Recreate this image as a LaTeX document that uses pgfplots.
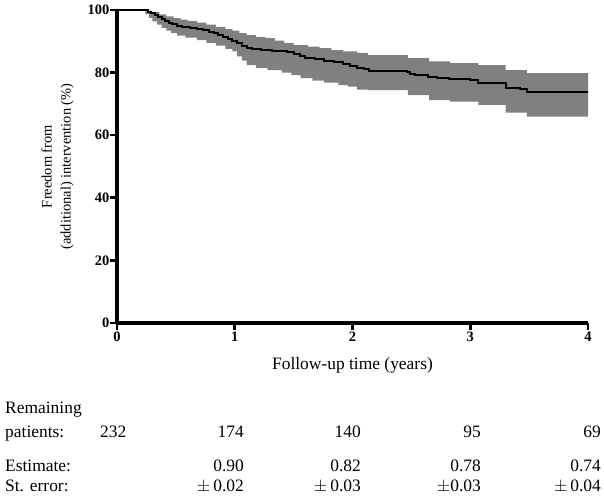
\documentclass[border=0pt]{standalone}
\usepackage{fontspec}
\setmainfont{Liberation Serif}
\usepackage{pgfplots}
\pgfplotsset{compat=1.18}
\usepgfplotslibrary{fillbetween}
\begin{document}
\begin{tikzpicture}
\begin{axis}[
  at={(0,0)}, anchor=south west,
  scale only axis, width=471bp, height=313bp,
  xmin=0, xmax=4, ymin=0, ymax=100,
  axis x line=bottom, axis y line=left,
  axis line style={line width=3bp, -},
  xtick={0,1,2,3,4}, ytick={0,20,40,60,80,100},
  tick align=outside, major tick length=7bp,
  every tick/.style={line width=2.6bp, black},
  /pgf/number format/assume math mode=true,
  ticklabel style={font=\bfseries\fontsize{14.5}{14.5}\selectfont},
  xticklabel style={inner sep=1bp, yshift=-1bp},
  yticklabel style={inner sep=0.5bp},
  xlabel={Follow-up time (years)},
  xlabel style={at={(axis description cs:0.5,0)}, anchor=base, yshift=-46bp, font=\fontsize{17.5}{20}\selectfont},
  ylabel={Freedom from\\(additional) intervention (\%)},
  ylabel style={at={(axis description cs:-0.1263,0.5)}, anchor=center, align=center, font=\fontsize{14.5}{19}\selectfont},
  clip=false,
]
\addplot[name path=U, const plot, draw=none, forget plot] table {
x y
0 100
0.26 99.8
0.30 99.3
0.36 98.6
0.42 98.0
0.48 97.4
0.54 96.9
0.60 96.5
0.68 96.0
0.76 95.3
0.84 94.6
0.92 93.9
0.98 93.4
1.04 92.6
1.10 92.0
1.18 91.4
1.26 91.0
1.34 90.2
1.42 89.5
1.50 88.8
1.62 88.3
1.72 87.8
1.82 87.2
1.92 86.8
2.04 86.3
2.13 85.6
2.47 84.6
2.65 83.6
2.83 83.0
3.07 82.4
3.30 80.8
3.48 79.8
4.00 79.8
};
\addplot[name path=L, const plot, draw=none, forget plot] table {
x y
0 100
0.24 98.8
0.27 97.5
0.30 96.4
0.34 95.3
0.38 94.3
0.42 93.4
0.46 92.6
0.51 91.8
0.58 91.2
0.68 90.4
0.76 89.5
0.84 88.6
0.92 87.6
0.98 86.8
1.02 85.2
1.06 83.8
1.10 82.4
1.18 81.4
1.28 80.8
1.40 80.0
1.48 79.2
1.56 78.2
1.66 77.4
1.76 76.8
1.88 76.0
1.96 75.5
2.04 74.6
2.13 74.4
2.47 72.8
2.65 71.2
2.83 70.7
3.07 69.7
3.30 67.2
3.48 65.9
4.00 65.9
};
\addplot[fill=black!50, draw=none] fill between[of=U and L];
\addplot[const plot, black, line width=2bp] table {
x y
0 100
0.26 99.5
0.29 99.0
0.32 98.4
0.35 97.8
0.38 97.2
0.41 96.6
0.44 96.0
0.47 95.5
0.51 95.0
0.55 94.6
0.62 94.4
0.68 94.0
0.73 93.5
0.78 93.0
0.82 92.5
0.86 91.9
0.90 91.3
0.94 90.7
0.98 90.1
1.02 89.3
1.06 88.6
1.10 88.0
1.15 87.5
1.22 87.1
1.32 86.9
1.44 86.7
1.50 86.0
1.55 85.3
1.60 84.8
1.68 84.3
1.76 83.8
1.84 83.3
1.92 82.8
1.98 82.2
2.04 81.6
2.10 81.0
2.14 80.6
2.30 80.5
2.46 80.3
2.49 79.6
2.53 79.2
2.64 78.5
2.72 78.2
2.82 77.8
3.00 77.6
3.07 76.8
3.20 76.7
3.30 75.0
3.42 74.8
3.48 73.8
4.00 73.8
};
\end{axis}
\begin{scope}[every node/.style={font=\fontsize{17.5}{20}\selectfont, inner sep=0pt}]
\node[anchor=base west] at (-112bp,-90bp) {Remaining};
\node[anchor=base west] at (-112bp,-114bp) {patients:};
\node[anchor=base west] at (-17bp,-114bp) {232};
\node[anchor=base east] at (127bp,-114bp) {174};
\node[anchor=base east] at (244bp,-114bp) {140};
\node[anchor=base east] at (364bp,-114bp) {95};
\node[anchor=base east] at (484bp,-114bp) {69};
\node[anchor=base west] at (-112bp,-148bp) {Estimate:};
\node[anchor=base west] at (-112bp,-168bp) {St. error:};
\node[anchor=base east] at (127bp,-148bp) {0.90};
\node[anchor=base east] at (244bp,-148bp) {0.82};
\node[anchor=base east] at (364bp,-148bp) {0.78};
\node[anchor=base east] at (484bp,-148bp) {0.74};
\node[anchor=base east] at (127bp,-168bp) {$\pm$\,0.02};
\node[anchor=base east] at (244bp,-168bp) {$\pm$\,0.03};
\node[anchor=base east] at (364bp,-168bp) {$\pm$0.03};
\node[anchor=base east] at (484bp,-168bp) {$\pm$\,0.04};
\end{scope}
\path[use as bounding box] (-117bp,-176bp) rectangle (487bp,323bp);
\end{tikzpicture}
\end{document}
